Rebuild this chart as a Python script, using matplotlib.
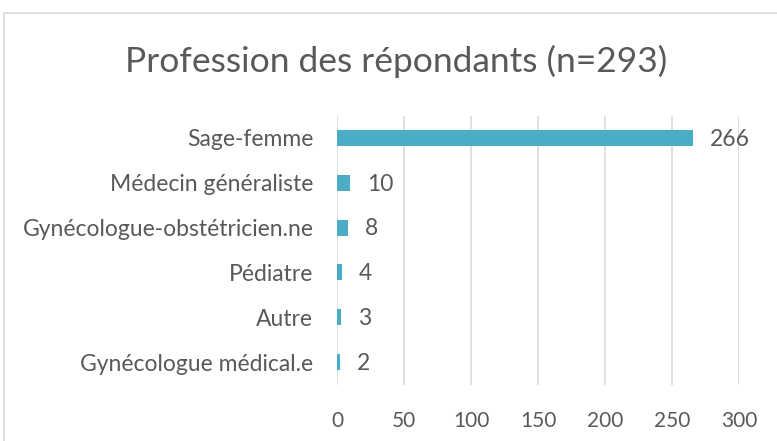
import matplotlib
matplotlib.use("Agg")
import matplotlib.pyplot as plt
from matplotlib.patches import Rectangle

categories = ["Sage-femme", "Médecin généraliste", "Gynécologue-obstétricien.ne",
              "Pédiatre", "Autre", "Gynécologue médical.e"]
values = [266, 10, 8, 4, 3, 2]
xticks = [0, 50, 100, 150, 200, 250, 300]
title = "Profession des répondants (n=293)"

plt.rcParams['font.family'] = ['Lato', 'DejaVu Sans']
text_color = "#595959"
bar_color = "#4BACC6"
grid_color = "#D9D9D9"

fig = plt.figure(figsize=(7.77, 4.41), dpi=100)
ax = fig.add_axes([337/777, 1 - 384.5/441, (739 - 337)/777, (384.5 - 115.5)/441])

ypos = list(range(len(categories)))
ax.barh(ypos, values, height=0.36, color=bar_color, zorder=3)
ax.set_ylim(len(categories) - 0.5, -0.5)
ax.set_xlim(0, 300)
ax.set_yticks(ypos)
ax.set_yticklabels(categories, fontsize=16.5, color=text_color)
ax.set_xticks(xticks)
ax.set_xticklabels([str(t) for t in xticks], fontsize=15, color=text_color)
ax.tick_params(axis='both', length=0)
ax.tick_params(axis='y', pad=17)
ax.tick_params(axis='x', pad=19)
for s in ax.spines.values():
    s.set_visible(False)
ax.grid(axis='x', color=grid_color, linewidth=1.2, zorder=0)

for y, v in zip(ypos, values):
    ax.text(v + 12.5, y + 0.03, str(v), va='center', ha='left', fontsize=16.5, color=text_color)

fig.text(396/777, 1 - 61/441, title, ha='center', va='center', fontsize=25.5, color=text_color)

# chart border
fig.patches.append(Rectangle((4/777, -0.1), 1.2, 1.1 - 13/441, transform=fig.transFigure,
                             fill=False, edgecolor=grid_color, linewidth=1.2))

fig.savefig("out.png", dpi=100)
